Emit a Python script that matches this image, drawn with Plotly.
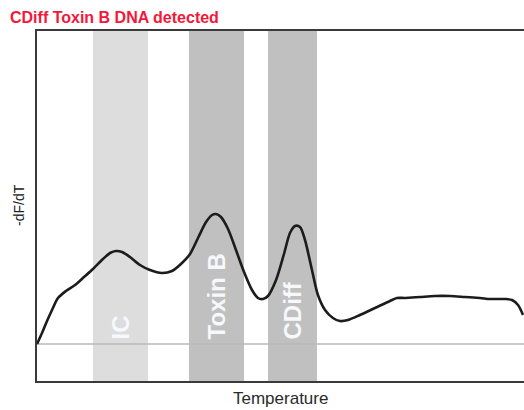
import plotly.graph_objects as go

# Melt curve: temperature (°C) vs. -dF/dT (arbitrary units)
temperature = [60.00, 60.36, 60.72, 61.08, 61.51, 62.08, 62.73, 63.38, 64.02, 64.74,
               65.25, 65.68, 66.11, 66.68, 67.40, 68.12, 68.98, 69.70, 70.42, 71.00,
               71.57, 72.15, 72.58, 72.86, 73.22, 73.73, 74.30, 74.88, 75.45, 75.88,
               76.24, 76.60, 77.18, 77.75, 78.18, 78.54, 78.90, 79.26, 79.76, 80.19,
               80.70, 81.27, 81.77, 82.35, 83.21, 84.29, 85.37, 85.87, 86.45, 87.53,
               88.60, 89.68, 90.76, 91.84, 92.56, 93.64, 94.14, 94.57, 94.93]
neg_df_dt = [0.00, 0.11, 0.23, 0.34, 0.46, 0.53, 0.59, 0.67, 0.75, 0.85,
             0.91, 0.93, 0.92, 0.87, 0.79, 0.74, 0.71, 0.73, 0.81, 0.90,
             1.06, 1.22, 1.29, 1.30, 1.27, 1.15, 0.94, 0.72, 0.54, 0.46,
             0.45, 0.48, 0.64, 0.90, 1.11, 1.18, 1.17, 1.04, 0.74, 0.49,
             0.34, 0.26, 0.23, 0.24, 0.29, 0.36, 0.43, 0.46, 0.46, 0.47,
             0.48, 0.48, 0.47, 0.46, 0.45, 0.45, 0.44, 0.39, 0.29]

# Detection windows (melting temperature ranges)
band_labels = ["IC", "Toxin B", "CDiff"]
band_start = [64.02, 70.92, 76.60]
band_end = [67.98, 74.88, 80.12]
band_colors = ["#dddddd", "#c0c0c0", "#c0c0c0"]

x_range = [60, 95]
y_range = [-0.37, 3.13]

fig = go.Figure()

# baseline at zero
fig.add_trace(go.Scatter(x=x_range, y=[0, 0], mode="lines",
                         line=dict(color="#b8b8b8", width=1.5),
                         hoverinfo="skip", showlegend=False))

fig.add_trace(go.Scatter(x=temperature, y=neg_df_dt, mode="lines",
                         line=dict(color="#1c1c1c", width=2.6, shape="spline", smoothing=0.8),
                         showlegend=False))

shapes = []
annotations = []
for lab, x0, x1, col in zip(band_labels, band_start, band_end, band_colors):
    shapes.append(dict(type="rect", xref="x", yref="paper", x0=x0, x1=x1, y0=0, y1=1,
                       fillcolor=col, line=dict(width=0), layer="below"))
    annotations.append(dict(x=(x0 + x1) / 2, y=0, xref="x", yref="y",
                            text="<b>" + lab + "</b>", textangle=-90, showarrow=False,
                            xanchor="center", yanchor="bottom", yshift=3,
                            font=dict(family="Liberation Sans", size=24, color="#f6f8fc")))

annotations.append(dict(x=-0.037, y=0.503, xref="paper", yref="paper", text="-dF/dT",
                        textangle=-90, showarrow=False, xanchor="center", yanchor="middle",
                        font=dict(family="Liberation Sans", size=14, color="#222222")))
annotations.append(dict(x=0.5, y=-0.051, xref="paper", yref="paper", text="Temperature",
                        showarrow=False, xanchor="center", yanchor="middle",
                        font=dict(family="Liberation Sans", size=17, color="#2a2a2a")))

fig.update_layout(
    width=524, height=410,
    margin=dict(l=37, r=0, t=31, b=29),
    paper_bgcolor="white", plot_bgcolor="white",
    title=dict(text="<b>CDiff Toxin B DNA detected</b>", x=10 / 524, xanchor="left",
               y=1 - 17 / 410, yanchor="middle",
               font=dict(family="Liberation Sans", size=16, color="#f5173a")),
    shapes=shapes, annotations=annotations,
    xaxis=dict(range=x_range, showgrid=False, zeroline=False, showticklabels=False,
               ticks="", showline=True, linecolor="#3a3a3a", linewidth=2, mirror=True),
    yaxis=dict(range=y_range, showgrid=False, zeroline=False, showticklabels=False,
               ticks="", showline=True, linecolor="#3a3a3a", linewidth=2),
)

fig.write_html("out.html")
